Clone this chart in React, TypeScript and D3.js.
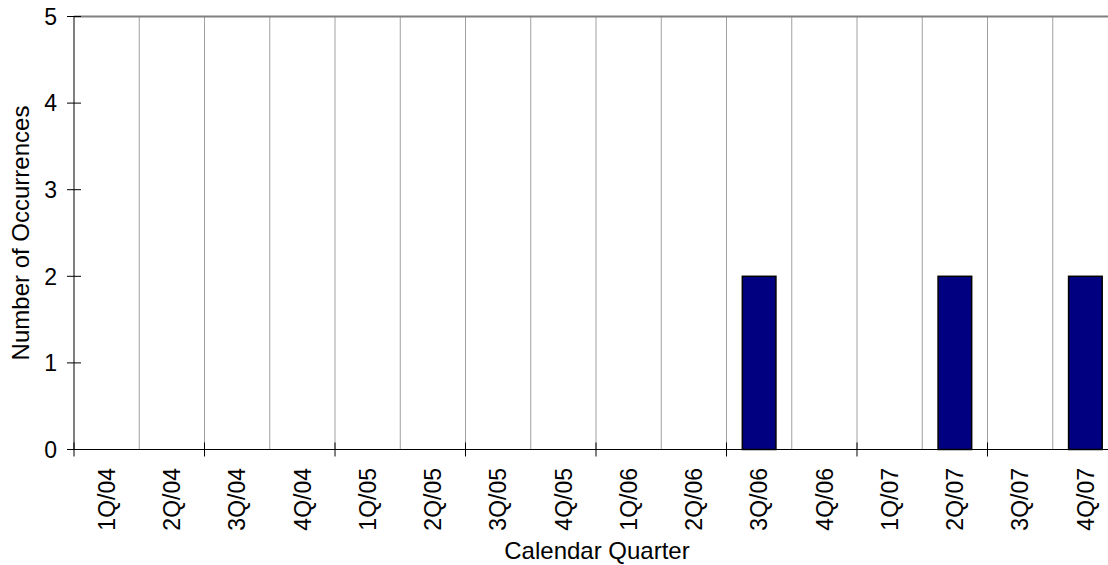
import React from "react";
import * as d3 from "d3";

const categories = ["1Q/04","2Q/04","3Q/04","4Q/04","1Q/05","2Q/05","3Q/05","4Q/05","1Q/06","2Q/06","3Q/06","4Q/06","1Q/07","2Q/07","3Q/07","4Q/07"];
const occurrences = [0,0,0,0,0,0,0,0,0,0,2,0,0,2,0,2];
const yTicks = [0,1,2,3,4,5];

const W = 1108, H = 565;
const left = 74, right = 1118, top = 16.5, bottom = 449.5;
const FONT = "Liberation Sans, Arial, sans-serif";

export default function App() {
  const x = d3.scaleBand<string>().domain(categories).range([left, right]).paddingInner(0).paddingOuter(0);
  const y = d3.scaleLinear().domain([0, 5]).range([bottom, top]);
  const bw = x.bandwidth();
  const barW = bw * 0.515;
  const boundaries = d3.range(categories.length + 1).map(i => left + i * bw);

  return (
    <svg width={W} height={H} style={{ position: "absolute", left: 0, top: 0, background: "#fff" }}>
      {boundaries.slice(1).map((b, i) => (
        <line key={"g" + i} x1={b} x2={b} y1={top} y2={bottom} stroke="#a0a0a0" strokeWidth={1} />
      ))}
      <line x1={left} x2={right} y1={top} y2={top} stroke="#808080" strokeWidth={2} />
      {categories.map((c, i) => occurrences[i] > 0 ? (
        <rect key={"b" + i}
          x={(x(c) as number) + (bw - barW) / 2}
          y={y(occurrences[i])}
          width={barW}
          height={y(0) - y(occurrences[i])}
          fill="#000080" stroke="#000" strokeWidth={1.5} />
      ) : null)}
      <line x1={left} x2={left} y1={top} y2={bottom} stroke="#000" strokeWidth={1} />
      <line x1={left} x2={right} y1={bottom} y2={bottom} stroke="#000" strokeWidth={1.2} />
      {yTicks.map(t => (
        <g key={"yt" + t}>
          <line x1={left - 7} x2={left + 7} y1={y(t)} y2={y(t)} stroke="#000" strokeWidth={1} />
          <text x={left - 17} y={y(t)} dy="0.36em" textAnchor="end" fontFamily={FONT} fontSize={23} fill="#000">{t}</text>
        </g>
      ))}
      {boundaries.filter((_, i) => i % 2 === 0).map((b, i) => (
        <line key={"xt" + i} x1={b} x2={b} y1={bottom - 7} y2={bottom + 7} stroke="#000" strokeWidth={1} />
      ))}
      {categories.map(c => {
        const cx = (x(c) as number) + bw / 2;
        const ty = 468;
        return (
          <text key={"xl" + c} transform={`translate(${cx},${ty}) rotate(-90)`} dy="0.36em" textAnchor="end"
            fontFamily={FONT} fontSize={23} fill="#000">{c}</text>
        );
      })}
      <text x={597} y={559} textAnchor="middle" fontFamily={FONT} fontSize={24} fill="#000">Calendar Quarter</text>
      <text transform={`translate(29,${(top + bottom) / 2}) rotate(-90)`} textAnchor="middle" fontFamily={FONT} fontSize={24} fill="#000">Number of Occurrences</text>
    </svg>
  );
}
